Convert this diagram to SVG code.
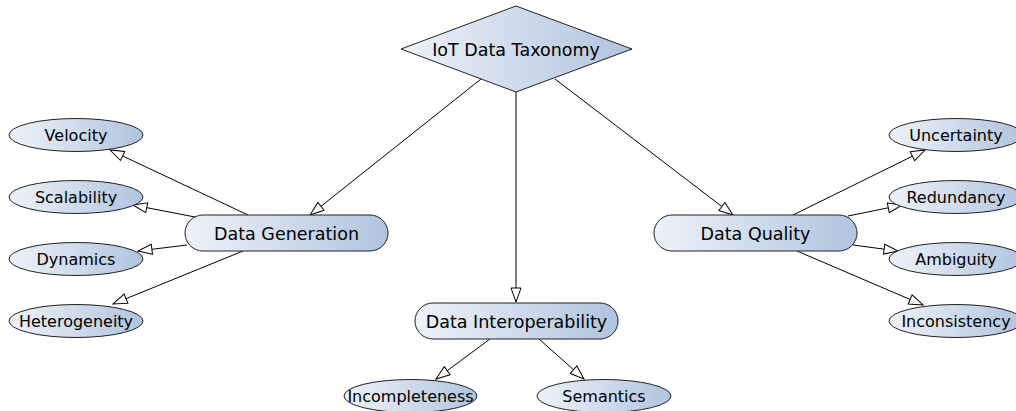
<svg xmlns="http://www.w3.org/2000/svg" width="1016" height="411" viewBox="0 0 1016 411">
<defs>
<linearGradient id="g" x1="0" y1="0" x2="1" y2="0">
<stop offset="0" stop-color="#eef2f9"/>
<stop offset="1" stop-color="#b0c4de"/>
</linearGradient>
<marker id="arr" markerWidth="16" markerHeight="12" viewBox="0 0 16 12" refX="15" refY="6" orient="auto" markerUnits="userSpaceOnUse">
<path d="M1,1 L15,6 L1,11 Z" fill="#fff" stroke="#000" stroke-width="1"/>
</marker>
</defs>
<style>
.n{fill:url(#g);stroke:#222;stroke-width:1}
.t{font-family:"DejaVu Sans",sans-serif;fill:#000;text-anchor:middle}
.big{font-size:17.5px}
.sm{font-size:16px}
.e{stroke:#000;stroke-width:1;fill:none;marker-end:url(#arr)}
</style>
<rect width="1016" height="411" fill="#fff"/>
<g id="connectors">
<line class="e" x1="481" y1="79" x2="310" y2="215"/>
<line class="e" x1="516" y1="92" x2="516" y2="302"/>
<line class="e" x1="555" y1="79" x2="733" y2="215"/>
<line class="e" x1="248" y1="215" x2="110" y2="150"/>
<line class="e" x1="195" y1="217" x2="133" y2="205"/>
<line class="e" x1="187" y1="245" x2="138" y2="251"/>
<line class="e" x1="243" y1="251" x2="113" y2="304"/>
<line class="e" x1="793" y1="215" x2="925" y2="150"/>
<line class="e" x1="848" y1="216" x2="902" y2="205"/>
<line class="e" x1="853" y1="245" x2="898" y2="251"/>
<line class="e" x1="797" y1="251" x2="923" y2="305"/>
<line class="e" x1="490" y1="339" x2="436" y2="379"/>
<line class="e" x1="539" y1="339" x2="584" y2="379"/>
</g>
<g id="root">
<polygon class="n" points="516,6 632,49 516,92 401,49"/>
<text class="t big" x="516" y="55.5">IoT Data Taxonomy</text>
</g>
<g id="gen">
<rect class="n" x="185" y="215" width="203" height="36" rx="18"/>
<text class="t big" x="286.5" y="239.5">Data Generation</text>
</g>
<g id="quality">
<rect class="n" x="654" y="215" width="203" height="36" rx="18"/>
<text class="t big" x="755.5" y="239.5">Data Quality</text>
</g>
<g id="interop">
<rect class="n" x="415" y="303" width="203" height="36" rx="18"/>
<text class="t big" x="516.5" y="327.5">Data Interoperability</text>
</g>
<g id="velocity"><ellipse class="n" cx="76" cy="135" rx="67" ry="16.5"/><text class="t sm" x="76" y="140.5">Velocity</text></g>
<g id="scalability"><ellipse class="n" cx="76" cy="197" rx="67" ry="16.5"/><text class="t sm" x="76" y="202.5">Scalability</text></g>
<g id="dynamics"><ellipse class="n" cx="76" cy="259" rx="67" ry="16.5"/><text class="t sm" x="76" y="264.5">Dynamics</text></g>
<g id="heterogeneity"><ellipse class="n" cx="76" cy="321" rx="67" ry="16.5"/><text class="t sm" x="76" y="326.5">Heterogeneity</text></g>
<g id="uncertainty"><ellipse class="n" cx="956" cy="135" rx="67" ry="16.5"/><text class="t sm" x="956" y="140.5">Uncertainty</text></g>
<g id="redundancy"><ellipse class="n" cx="956" cy="197" rx="67" ry="16.5"/><text class="t sm" x="956" y="202.5">Redundancy</text></g>
<g id="ambiguity"><ellipse class="n" cx="956" cy="259" rx="67" ry="16.5"/><text class="t sm" x="956" y="264.5">Ambiguity</text></g>
<g id="inconsistency"><ellipse class="n" cx="956" cy="321" rx="67" ry="16.5"/><text class="t sm" x="956" y="326.5">Inconsistency</text></g>
<g id="incompleteness"><ellipse class="n" cx="410.5" cy="396" rx="66.5" ry="16.5"/><text class="t sm" x="410.5" y="401.5">Incompleteness</text></g>
<g id="semantics"><ellipse class="n" cx="604" cy="396" rx="67" ry="16.5"/><text class="t sm" x="604" y="401.5">Semantics</text></g>
</svg>
